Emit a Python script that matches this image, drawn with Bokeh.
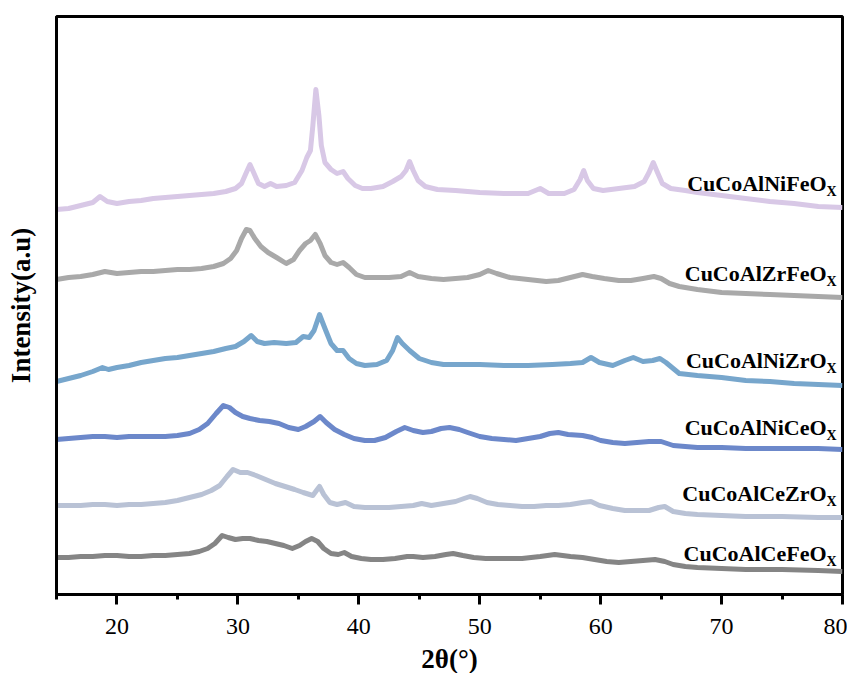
from bokeh.plotting import figure
from bokeh.models import Range1d, FixedTicker, ColumnDataSource
from bokeh.core.properties import value
from bokeh.embed import file_html
from bokeh.resources import INLINE

# ---------------- data (2theta in degrees, intensity in a.u., stacked) ----------------
nife_x = [15, 16, 17, 18, 18.6, 19.2, 20, 21, 22, 23, 24, 25, 26, 27, 28, 29, 29.8, 30.3, 30.7, 31.0,
          31.3, 31.7, 32.2, 32.7, 33.2, 34, 34.7, 35.3, 35.7, 36.0, 36.2, 36.45, 36.7, 36.9, 37.2, 37.7,
          38.2, 38.7, 39.1, 39.7, 40.3, 41, 42, 42.8, 43.5, 43.9, 44.2, 44.5, 44.9, 45.5, 46.5, 48, 50,
          52, 54, 55, 55.7, 57, 57.8, 58.3, 58.6, 58.9, 59.4, 60.2, 61.5, 62.8, 63.6, 64.0, 64.35, 64.7,
          65.1, 65.8, 67, 68, 70, 72, 74, 76, 78, 80]
nife_y = [391, 392, 395, 398, 404, 399, 397, 399, 400, 402, 403, 404, 405, 406, 407, 409, 412, 417, 428, 436,
          428, 417, 414, 417, 414, 415, 418, 430, 443, 450, 475, 511, 485, 455, 438, 431,
          427, 429, 422, 415, 412, 412, 414, 419, 424, 430, 439, 430, 420, 414, 411, 410, 408,
          407, 407, 412, 407, 407, 411, 421, 430, 420, 412, 410, 412, 414, 419, 428, 438, 428,
          417, 412, 410, 408, 405, 402, 399, 397, 394, 393]

zrfe_x = [15, 16, 17, 18, 19, 20, 21, 22, 23, 24, 25, 26, 27, 28, 28.8, 29.4, 29.9, 30.3, 30.7, 31.0,
          31.4, 31.9, 32.5, 33.2, 34.0, 34.6, 35.1, 35.6, 36.0, 36.4, 36.8, 37.2, 37.7, 38.2, 38.7, 39.2,
          39.8, 40.5, 41.5, 42.5, 43.5, 44.2, 44.9, 46, 47, 48, 49, 50, 50.7, 51.4, 52.5, 54, 55.5, 56.5,
          57.5, 58.5, 59.3, 60.3, 61.5, 62.5, 63.5, 64.4, 65, 65.7, 66.5, 68, 70, 72, 74, 76, 78, 80]
zrfe_y = [321, 323, 324, 326, 329, 327, 328, 329, 329, 330, 331, 331, 332, 334, 337, 342, 350, 362, 371, 370,
          362, 354, 348, 343, 337, 341, 350, 357, 360, 366, 357, 345, 338, 336, 338, 333,
          326, 323, 323, 323, 324, 328, 324, 322, 321, 322, 323, 326, 330, 327, 323, 321, 319, 320,
          323, 326, 324, 322, 320, 320, 322, 324, 322, 317, 314, 311, 308, 307, 306, 305, 304, 303]

nizr_x = [15, 16, 17, 18, 18.8, 19.3, 20, 21, 22, 23, 24, 25, 26, 27, 28, 29, 29.8, 30.5, 31.1, 31.6,
          32.2, 33, 34, 34.8, 35.4, 35.9, 36.3, 36.75, 37.2, 37.7, 38.2, 38.7, 39.2, 39.8, 40.5, 41.5,
          42.3, 42.8, 43.2, 43.6, 44.2, 45, 46, 47, 48, 49, 50, 52, 54, 56, 57.5, 58.5, 59.2, 59.9,
          61, 62, 62.7, 63.5, 64.3, 64.9, 65.4, 66, 66.5, 68, 70, 72, 74, 76, 78, 80]
nizr_y = [219, 222, 225, 229, 233, 231, 233, 235, 238, 240, 242, 243, 245, 247, 249, 252, 254, 259, 265, 259,
          257, 258, 257, 258, 264, 263, 270, 286, 272, 257, 250, 250, 242, 237, 235, 236,
          240, 250, 263, 257, 250, 242, 238, 236, 236, 236, 236, 235, 235, 236, 237, 238, 243, 238,
          235, 240, 243, 239, 240, 242, 238, 232, 227, 225, 223, 220, 219, 217, 216, 215]

nice_x = [15, 16, 17, 18, 19, 20, 21, 22, 23, 24, 25, 26, 26.8, 27.5, 28.2, 28.8, 29.3, 29.8, 30.4, 31,
          31.8, 32.6, 33.4, 34.2, 35, 35.6, 36.3, 36.8, 37.3, 38, 38.8, 39.6, 40.5, 41.3, 42.2, 43.1,
          43.8, 44.5, 45.3, 46, 46.8, 47.5, 48.3, 49, 50, 51, 52, 53, 54, 55, 55.8, 56.5, 57.3, 58.5,
          59.3, 60, 61, 62, 63, 64, 65, 66, 67, 68, 70, 72, 74, 76, 78, 80]
nice_y = [161, 162, 163, 164, 164, 163, 164, 164, 164, 164, 165, 167, 171, 177, 187, 195, 193, 188, 184, 182,
          180, 179, 177, 173, 171, 174, 179, 184, 178, 171, 166, 162, 160, 160, 163, 169,
          173, 170, 168, 169, 172, 173, 171, 168, 164, 162, 161, 160, 162, 164, 167, 168, 166, 165,
          163, 160, 158, 157, 158, 159, 159, 155, 154, 153, 153, 152, 152, 152, 152, 151]

cezr_x = [15, 16, 17, 18, 19, 20, 21, 22, 23, 24, 25, 26, 27, 27.8, 28.5, 29.1, 29.6, 30.2, 30.8, 31.5,
          32.3, 33.1, 33.9, 34.7, 35.4, 36.2, 36.5, 36.75, 37.1, 37.6, 38.2, 38.9, 39.6, 40.5, 41.5, 42.5,
          43.5, 44.5, 45.2, 46, 47, 48, 48.7, 49.2, 49.8, 50.6, 51.5, 52.5, 53.5, 54.5, 55.5, 56.5, 57.5,
          58.5, 59.2, 59.9, 61, 62, 63, 64, 64.8, 65.3, 66, 67, 68, 70, 72, 75, 78, 80]
cezr_y = [95, 95, 95, 96, 96, 95, 96, 96, 97, 98, 100, 103, 106, 110, 115, 124, 131, 128, 128, 125,
          121, 117, 114, 111, 108, 105, 110, 114, 106, 98, 96, 98, 94, 93, 93, 93,
          94, 95, 97, 95, 97, 99, 102, 104, 102, 98, 96, 95, 94, 94, 95, 95, 96,
          98, 99, 95, 92, 90, 90, 90, 93, 94, 89, 87, 86, 85, 84, 84, 83, 83]

cefe_x = [15, 16, 17, 18, 19, 20, 21, 22, 23, 24, 25, 26, 26.8, 27.5, 28.1, 28.7, 29.2, 29.8, 30.4, 31,
          31.7, 32.4, 33.1, 33.8, 34.5, 35.1, 35.6, 36.1, 36.6, 37.1, 37.7, 38.3, 38.8, 39.4, 40.2, 41,
          42, 43, 44, 44.5, 45.3, 46.3, 47.2, 47.8, 48.6, 49.5, 50.5, 52, 53.5, 55, 56.2, 57.5, 58.5,
          59.5, 60.5, 61.5, 62.5, 63.5, 64.5, 65.3, 66, 67, 68, 70, 72, 75, 78, 80]
cefe_y = [43, 43, 44, 44, 45, 45, 44, 44, 45, 45, 46, 47, 49, 52, 57, 65, 63, 61, 62, 62,
          60, 59, 57, 55, 52, 55, 59, 62, 59, 52, 47, 46, 48, 44, 42, 41,
          41, 42, 44, 44, 43, 44, 46, 47, 45, 43, 42, 42, 42, 44, 46, 44, 43,
          41, 39, 38, 39, 40, 41, 39, 36, 34, 33, 32, 31, 31, 30, 29]

names = ["CuCoAlNiFeO", "CuCoAlZrFeO", "CuCoAlNiZrO", "CuCoAlNiCeO", "CuCoAlCeZrO", "CuCoAlCeFeO"]
label_y = [417, 327, 240, 173, 107, 47]
x_ticks = [20, 30, 40, 50, 60, 70, 80]
x_minor = [15, 25, 35, 45, 55, 65, 75]

series = [(nife_x, nife_y), (zrfe_x, zrfe_y), (nizr_x, nizr_y),
          (nice_x, nice_y), (cezr_x, cezr_y), (cefe_x, cefe_y)]
colors = ["#d8c8e6", "#a9a9a9", "#77a6cc", "#6c88ca", "#b9c2d5", "#858585"]

FONT = "Liberation Serif"

p = figure(frame_width=786, frame_height=578, output_backend="svg", toolbar_location=None,
           x_range=Range1d(15, 80), y_range=Range1d(6, 584),
           min_border_left=56, min_border_top=16, min_border_right=5, min_border_bottom=40)
p.background_fill_color = "white"
p.border_fill_color = "white"
p.outline_line_color = "black"
p.outline_line_width = 3
p.xgrid.visible = False
p.ygrid.visible = False

for (xs, ys), c in zip(series, colors):
    p.line(xs, ys, line_color=c, line_width=5, line_join="round")

lab_src = ColumnDataSource(dict(x=[79.67] * len(names), y=label_y, t=names, s=["X"] * len(names)))
p.text(x="x", y="y", text="t", source=lab_src, text_align="right", text_baseline="middle",
       x_offset=-12, text_font=value(FONT), text_font_style="bold", text_font_size="22px",
       text_color="black")
p.text(x="x", y="y", text="s", source=lab_src, text_align="left", text_baseline="middle",
       x_offset=-12, y_offset=8, text_font=value(FONT), text_font_style="bold", text_font_size="14px",
       text_color="black")

xa = p.xaxis[0]
xa.ticker = FixedTicker(ticks=x_ticks, minor_ticks=x_minor)
xa.axis_line_width = 3
xa.axis_line_color = "black"
xa.major_tick_line_width = 3
xa.major_tick_out = 10
xa.major_tick_in = 0
xa.minor_tick_line_width = 3
xa.minor_tick_out = 5
xa.minor_tick_in = 0
xa.major_label_text_font = FONT
xa.major_label_text_font_size = "24px"
xa.major_label_text_color = "black"
xa.major_label_standoff = 14
xa.axis_label = "2θ(°)"
xa.axis_label_text_font = FONT
xa.axis_label_text_font_style = "bold"
xa.axis_label_text_font_size = "27px"
xa.axis_label_text_color = "black"
xa.axis_label_standoff = 7

ya = p.yaxis[0]
ya.ticker = FixedTicker(ticks=[])
ya.axis_line_width = 3
ya.axis_line_color = "black"
ya.major_tick_line_color = None
ya.minor_tick_line_color = None
ya.axis_label = "Intensity(a.u)"
ya.axis_label_text_font = FONT
ya.axis_label_text_font_style = "bold"
ya.axis_label_text_font_size = "27px"
ya.axis_label_text_color = "black"
ya.axis_label_standoff = 21

open("out.html", "w").write(file_html(p, INLINE))
